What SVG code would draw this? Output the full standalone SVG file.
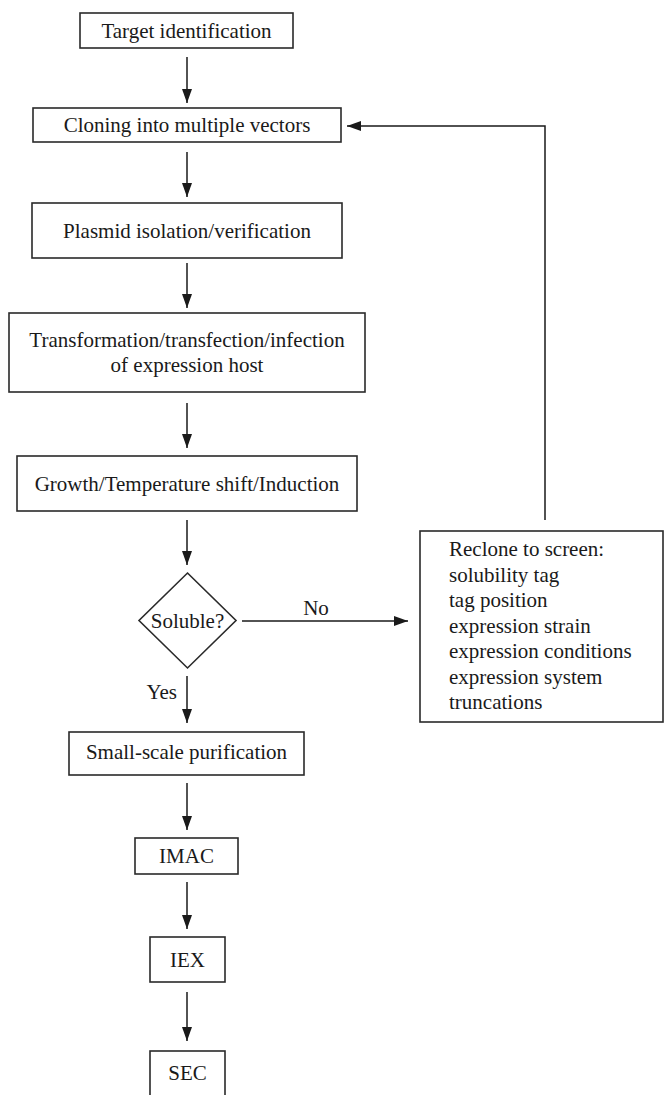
<svg xmlns="http://www.w3.org/2000/svg" width="664" height="1095" viewBox="0 0 664 1095">
<defs>
<marker id="ah" viewBox="0 0 14 10" refX="14" refY="5" markerWidth="14" markerHeight="10" markerUnits="userSpaceOnUse" orient="auto">
<path d="M0,0 L14,5 L0,10 Z" fill="#1a1a1a"/>
</marker>
<style>
rect, polygon.node { fill: #fff; stroke: #2a2a2a; stroke-width: 1.6; }
text { font-size: 21px; fill: #1a1a1a; }
.c { text-anchor: middle; }
.edge { fill: none; stroke: #1a1a1a; stroke-width: 1.5; marker-end: url(#ah); }
</style>
</defs>
<rect x="0" y="0" width="664" height="1095" style="fill:#fff;stroke:none"/>
<g font-family="'Liberation Serif', serif">
<g id="n1"><rect x="80" y="13" width="213" height="35"/><text class="c" x="186.5" y="37.5">Target identification</text></g>
<g id="n2"><rect x="33" y="108" width="308" height="34"/><text class="c" x="187" y="132">Cloning into multiple vectors</text></g>
<g id="n3"><rect x="32" y="203" width="310" height="55"/><text class="c" x="187" y="238">Plasmid isolation/verification</text></g>
<g id="n4"><rect x="9" y="313" width="356" height="79"/><text class="c" x="187" y="347">Transformation/transfection/infection</text><text class="c" x="187" y="372">of expression host</text></g>
<g id="n5"><rect x="17" y="456" width="340" height="55"/><text class="c" x="187" y="491">Growth/Temperature shift/Induction</text></g>
<g id="n6"><polygon class="node" points="187.5,573 236,620.5 187.5,668 139,620.5"/><text class="c" x="187.5" y="628">Soluble?</text></g>
<g id="n7"><rect x="420" y="531" width="243" height="191"/>
<text x="449" y="556">Reclone to screen:</text>
<text x="449" y="582">solubility tag</text>
<text x="449" y="607">tag position</text>
<text x="449" y="633">expression strain</text>
<text x="449" y="658">expression conditions</text>
<text x="449" y="684">expression system</text>
<text x="449" y="709">truncations</text>
</g>
<g id="n8"><rect x="69" y="732" width="235" height="43"/><text class="c" x="186.5" y="759">Small-scale purification</text></g>
<g id="n9"><rect x="135" y="838" width="103" height="36"/><text class="c" x="186.5" y="863">IMAC</text></g>
<g id="n10"><rect x="150" y="937" width="75" height="45"/><text class="c" x="187.5" y="967">IEX</text></g>
<g id="n11"><rect x="150" y="1051" width="75" height="60"/><text class="c" x="187.5" y="1080">SEC</text></g>
<g id="connectors">
<path class="edge" d="M187,57 V103"/>
<path class="edge" d="M187,152 V197"/>
<path class="edge" d="M187,263 V308"/>
<path class="edge" d="M187,403 V448"/>
<path class="edge" d="M187,520 V565"/>
<path class="edge" d="M187,676 V723"/>
<path class="edge" d="M187,783 V830"/>
<path class="edge" d="M187,882 V929"/>
<path class="edge" d="M187,992 V1041"/>
<path class="edge" d="M242,621 H408"/>
<path class="edge" d="M545,520 V126 H347"/>
<text class="c" x="316" y="615">No</text>
<text x="177" y="699" style="text-anchor:end">Yes</text>
</g>
</g>
</svg>
